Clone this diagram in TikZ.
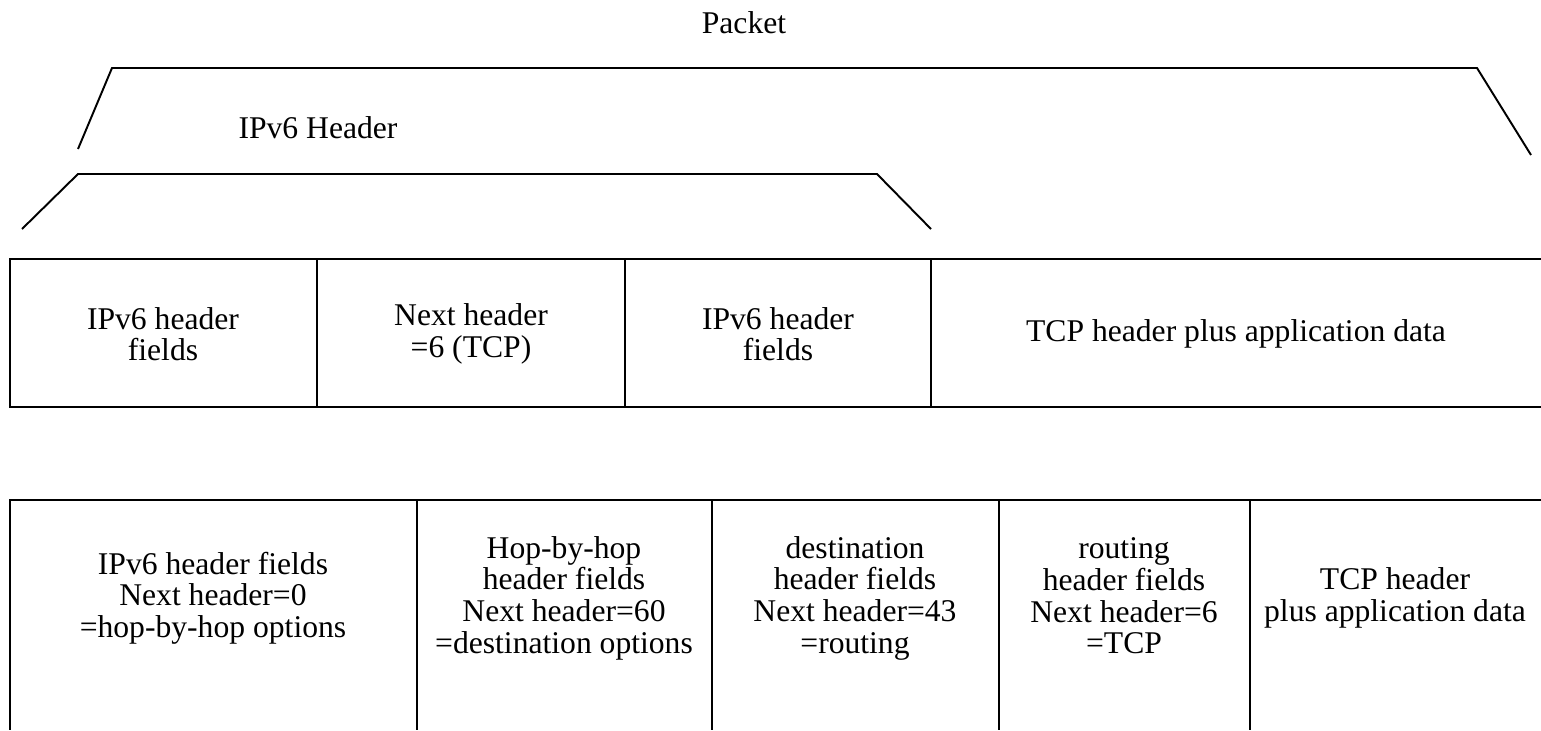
\documentclass[tikz,border=0pt]{standalone}
\usepackage{fontspec}
\setmainfont{Liberation Serif}
\usepackage{tikz}

\begin{document}
\begin{tikzpicture}[x=0.02cm, y=-0.02cm, line width=1.1pt,
  every node/.style={font=\fontsize{18}{18}\selectfont, align=center}]
\useasboundingbox (0,0) rectangle (1541,730) ;
% packet and header brackets
\draw (78,149) -- (112,68) -- (1477,68) -- (1531,155) ;
\node (packet) at (744,23) {Packet} ;
\draw (22,229) -- (78,174) -- (877,174) -- (931,229) ;
\node (ipvsix) at (318,128) {IPv6 Header} ;
% upper row
\draw (1541,259) -- (10,259) -- (10,407) -- (1541,407) ;
\draw (317,259) -- (317,407) ;
\draw (625,259) -- (625,407) ;
\draw (931,259) -- (931,407) ;
\node (ufieldsa) at (163,334) {IPv6 header\\fields} ;
\node (unext) at (471,334) {Next header\\=6 (TCP)} ;
\node (ufieldsb) at (778,334) {IPv6 header\\fields} ;
\node (utcp) at (1236,334) {TCP header plus application data} ;
% lower row
\draw (1541,500) -- (10,500) -- (10,730) ;
\draw (417,500) -- (417,730) ;
\draw (712,500) -- (712,730) ;
\draw (999,500) -- (999,730) ;
\draw (1250,500) -- (1250,730) ;
\node (lipv) at (213,598) {IPv6 header fields\\Next header=0\\=hop-by-hop options} ;
\node (lhop) at (564,598) {Hop-by-hop\\header fields\\Next header=60\\=destination options} ;
\node (ldest) at (855,598) {destination\\header fields\\Next header=43\\=routing} ;
\node (lrout) at (1124,596) {routing\\header fields\\Next header=6\\=TCP} ;
\node (ltcp) at (1395,598) {TCP header\\plus application data} ;
\end{tikzpicture}
\end{document}
